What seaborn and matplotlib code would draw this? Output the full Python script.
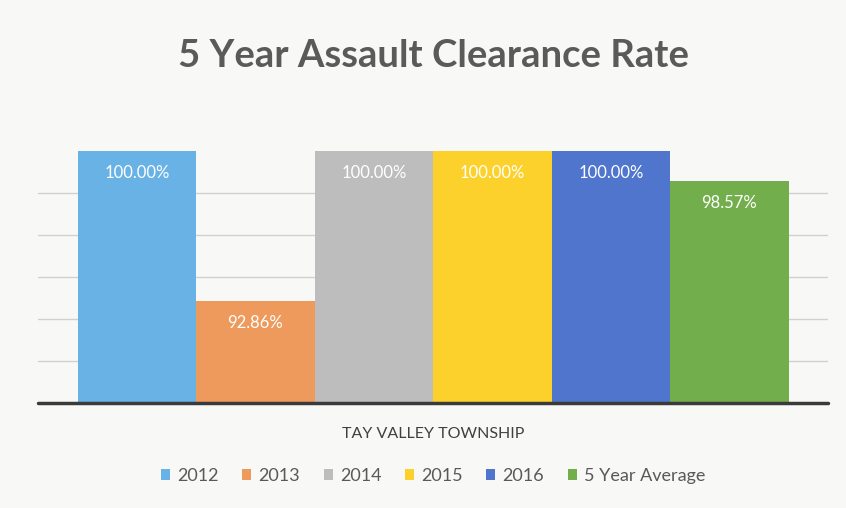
import matplotlib.pyplot as plt
import pandas as pd
import seaborn as sns

# chart data
group = "TAY VALLEY TOWNSHIP"
series = ["2012", "2013", "2014", "2015", "2016", "5 Year Average"]
rates = [100.00, 92.86, 100.00, 100.00, 100.00, 98.57]
colors = ["#68b2e6", "#ee9a5c", "#bdbdbd", "#fdd12b", "#4f75cd", "#73ae4c"]

df = pd.DataFrame({"group": group, "series": series, "rate": rates})

sns.set_style("white")
plt.rcParams["font.family"] = ["Lato", "DejaVu Sans"]

fig = plt.figure(figsize=(8.46, 5.08), dpi=100, facecolor="#f8f8f6")
ax = fig.add_axes([0.045, 0.207, 0.934, 0.496])
ax.set_facecolor("#f8f8f6")

sns.barplot(data=df, x="group", y="rate", hue="series", palette=colors,
            width=0.9, saturation=1, linewidth=0, ax=ax, zorder=2)

ax.set_ylim(88, 100)
ax.set_xlim(-0.5, 0.5)
ax.set_yticks([90, 92, 94, 96, 98])
ax.yaxis.grid(True, color="#d0d0d0", lw=1, zorder=0)
ax.set_yticklabels([])
ax.tick_params(left=False, bottom=False)
for s in ax.spines.values():
    s.set_visible(False)
ax.axhline(88, color="#3a3a3a", lw=2.5, zorder=3, clip_on=False)

# value labels inside bars
for cont, v in zip(ax.containers, rates):
    for bar in cont:
        ax.annotate(f"{v:.2f}%", (bar.get_x() + bar.get_width() / 2, v),
                    xytext=(0, -16), textcoords="offset points",
                    ha="center", va="center", color="white", fontsize=12)

ax.set_xlabel("")
ax.set_ylabel("")
ax.set_xticks([0])
ax.set_xticklabels([group], fontsize=11.5, color="#404040")
ax.tick_params(axis="x", pad=14)

ax.legend(loc="center", bbox_to_anchor=(0.5, -0.29), ncol=6, frameon=False,
          fontsize=13, handlelength=0.5, handleheight=0.5,
          columnspacing=1.3, handletextpad=0.4, labelcolor="#595959")

fig.text(0.512, 0.89, "5 Year Assault Clearance Rate", ha="center", va="center",
         fontsize=27.5, fontweight="bold", color="#5a5a5a")

fig.savefig("out.png", dpi=100, facecolor=fig.get_facecolor())
